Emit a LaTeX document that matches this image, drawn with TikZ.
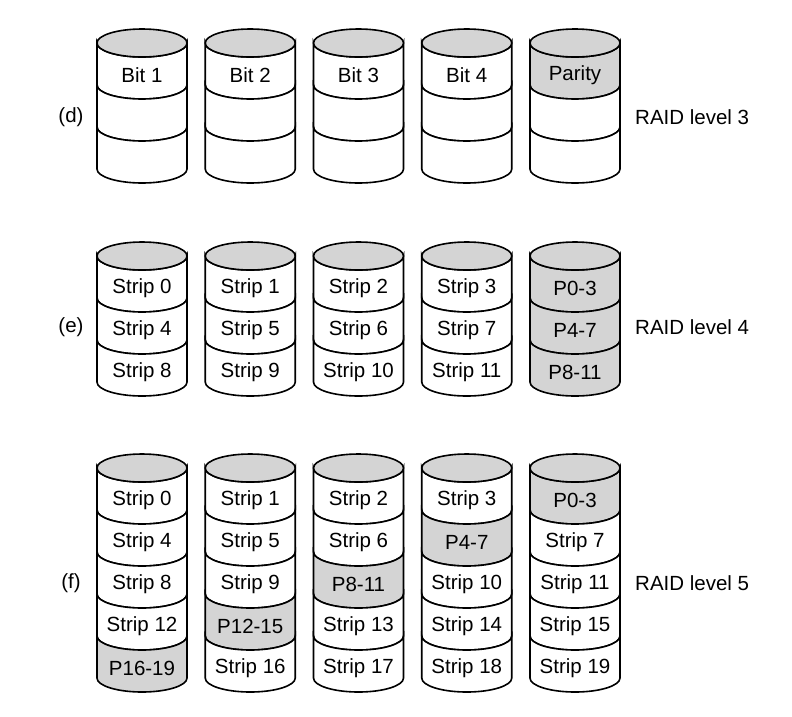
\documentclass[tikz,border=0pt]{standalone}
\usepackage{fontspec}
\setmainfont{Liberation Sans}
\usepackage{tikz}
\usetikzlibrary{positioning}

\tikzset{
  band/.style={draw=black, line width=1.6pt, fill=white},
  pband/.style={band, fill=black!17},
  lbl/.style={font=\fontsize{20.5}{24}\selectfont, inner sep=0pt},
}

\begin{document}
\begin{tikzpicture}[x=1pt, y=1pt]
\useasboundingbox (0,0) rectangle (792,-716);

% RAID level 3
\foreach \c/\txt in {0/Bit 1, 1/Bit 2, 2/Bit 3, 3/Bit 4, 4/Parity} {
  \pgfmathsetmacro{\xc}{142+108.25*\c}
  \foreach \r in {0,1,2} {
    \ifnum\c=4 \ifnum\r=0 \def\sty{pband}\else \def\sty{band}\fi \else \def\sty{band}\fi
    \draw[\sty] ({\xc-45},{-43-42*\r}) -- ++(0,-42) arc (180:360:45pt and 14pt)
      -- ++(0,42) arc (0:-180:45pt and 14pt) -- cycle;
  }
  \draw[pband] (\xc,-43) ellipse (45pt and 14pt);
  \node[lbl] (d\c) at (\xc,-75) {\txt};
}
\node[lbl] (dlab) at (71,-117) {(d)};
\node[lbl, anchor=west] (draid) at (635,-117) {RAID level 3};

% RAID level 4
\foreach \c in {0,...,4} {
  \pgfmathsetmacro{\xc}{142+108.25*\c}
  \foreach \r in {0,1,2} {
    \pgfmathtruncatemacro{\sn}{4*\r+\c}
    \pgfmathtruncatemacro{\pa}{4*\r}
    \pgfmathtruncatemacro{\pb}{4*\r+3}
    \ifnum\c=4 \def\sty{pband}\def\txt{P\pa-\pb}\else \def\sty{band}\def\txt{Strip \sn}\fi
    \draw[\sty] ({\xc-45},{-256-42*\r}) -- ++(0,-42) arc (180:360:45pt and 14pt)
      -- ++(0,42) arc (0:-180:45pt and 14pt) -- cycle;
    \node[lbl] (e\c\r) at (\xc,{-288-42*\r}) {\txt};
  }
  \draw[pband] (\xc,-256) ellipse (45pt and 14pt);
}
\node[lbl] (elab) at (71,-327) {(e)};
\node[lbl, anchor=west] (eraid) at (635,-327) {RAID level 4};

% RAID level 5
\foreach \c in {0,...,4} {
  \pgfmathsetmacro{\xc}{142+108.25*\c}
  \foreach \r in {0,...,4} {
    \pgfmathtruncatemacro{\sn}{4*\r+\c-(\c>4-\r)}
    \pgfmathtruncatemacro{\pa}{4*\r}
    \pgfmathtruncatemacro{\pb}{4*\r+3}
    \pgfmathtruncatemacro{\pc}{4-\r}
    \ifnum\c=\pc \def\sty{pband}\def\txt{P\pa-\pb}\else \def\sty{band}\def\txt{Strip \sn}\fi
    \draw[\sty] ({\xc-45},{-468-42*\r}) -- ++(0,-42) arc (180:360:45pt and 14pt)
      -- ++(0,42) arc (0:-180:45pt and 14pt) -- cycle;
    \node[lbl] (f\c\r) at (\xc,{-500-42*\r}) {\txt};
  }
  \draw[pband] (\xc,-468) ellipse (45pt and 14pt);
}
\node[lbl] (flab) at (71,-583) {(f)};
\node[lbl, anchor=west] (fraid) at (635,-583) {RAID level 5};
\end{tikzpicture}
\end{document}
